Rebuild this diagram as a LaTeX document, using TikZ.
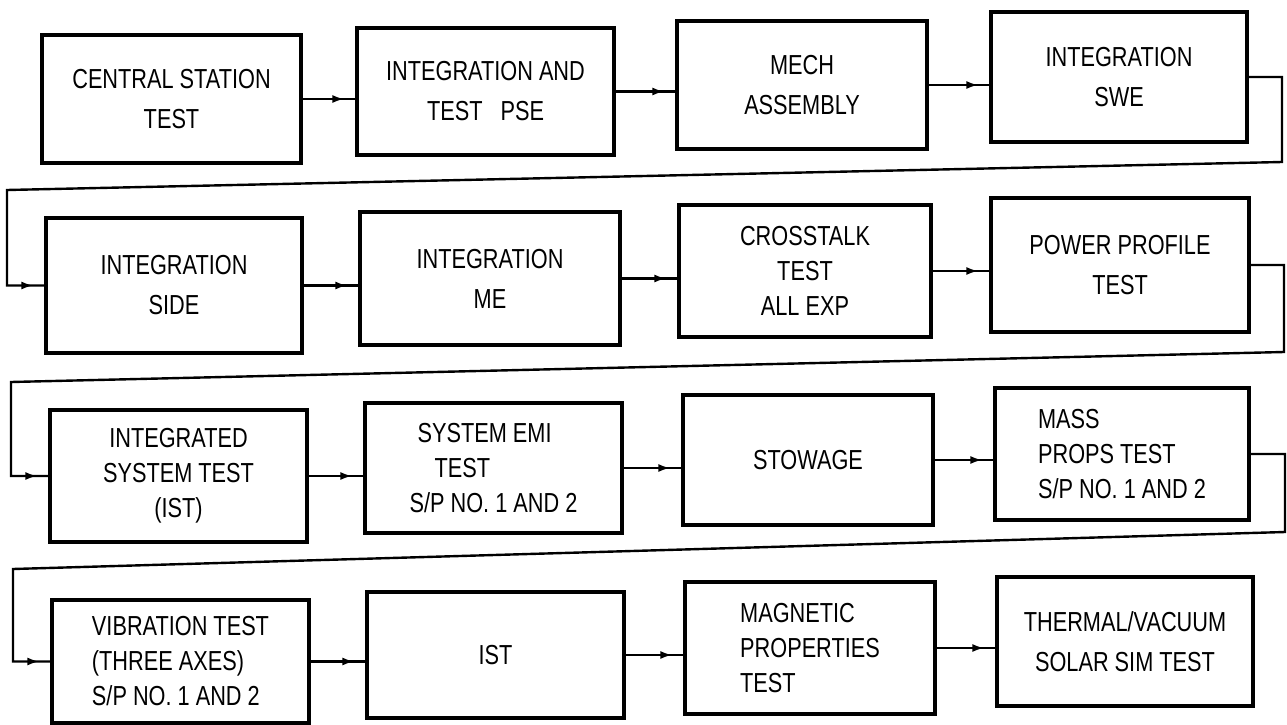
\documentclass[tikz,border=0pt]{standalone}
\usepackage{fontspec}
\setmainfont{Liberation Sans}[FakeStretch=0.79]
\usetikzlibrary{arrows.meta,decorations.markings,calc}
\newcommand\twofont{\fontsize{27.5pt}{40pt}\selectfont}
\newcommand\threefont{\fontsize{27.5pt}{35pt}\selectfont}
\begin{document}
\begin{tikzpicture}[x=1pt,y=-1pt,
  blk/.style={draw=black, line width=3.2pt, inner sep=0pt, align=center, font=\twofont},
  blk3/.style={blk, font=\threefont},
  lblk/.style={blk3, align=left},
  conn/.style={draw=black, line width=2.4pt, postaction={decorate},
    decoration={markings, mark=at position -11pt with {\arrow{Latex[length=12pt,width=8pt]}}}}
]
\useasboundingbox (0,0) rectangle (1287,725);
% row 1
\node[blk, minimum width=259pt, minimum height=128pt] (A) at (171.5,99) {CENTRAL STATION\\TEST};
\node[blk, minimum width=257pt, minimum height=127pt] (B) at (485.5,91.5) {INTEGRATION AND\\TEST\hspace{18pt}PSE};
\node[blk, minimum width=250pt, minimum height=128pt] (C) at (802,85) {MECH\\ASSEMBLY};
\node[blk, minimum width=256pt, minimum height=130pt] (D) at (1119,77) {INTEGRATION\\SWE};
% row 2
\node[blk, minimum width=256pt, minimum height=135pt] (E) at (174,285.5) {INTEGRATION\\SIDE};
\node[blk, minimum width=260pt, minimum height=133pt] (F) at (490,278.5) {INTEGRATION\\ME};
\node[blk3, minimum width=252pt, minimum height=132pt] (G) at (805,271) {CROSSTALK\\TEST\\ALL EXP};
\node[blk, minimum width=258pt, minimum height=134pt] (H) at (1120,265) {POWER PROFILE\\TEST};
% row 3
\node[blk3, minimum width=257pt, minimum height=132pt] (I) at (178.5,476) {INTEGRATED\\SYSTEM TEST\\(IST)};
\node[lblk, minimum width=257pt, minimum height=130pt] (J) at (493.5,468) {\hspace*{8pt}SYSTEM EMI\\\hspace*{25pt}TEST\\S/P NO. 1 AND 2};
\node[blk, minimum width=250pt, minimum height=130pt] (K) at (808,460) {STOWAGE};
\node[lblk, minimum width=254pt, minimum height=132pt] (L) at (1122,454) {MASS\\PROPS TEST\\S/P NO. 1 AND 2};
% row 4
\node[lblk, minimum width=257pt, minimum height=123pt] (M) at (180.5,661.5) {VIBRATION TEST\\(THREE AXES)\\S/P NO. 1 AND 2};
\node[blk, minimum width=257pt, minimum height=126pt] (N) at (495.5,655) {IST};
\node[lblk, minimum width=250pt, minimum height=132pt] (O) at (810,648) {MAGNETIC\\PROPERTIES\\TEST};
\node[blk, minimum width=256pt, minimum height=129pt] (P) at (1125,641.5) {THERMAL/VACUUM\\SOLAR SIM TEST};
% connectors within rows
\draw[conn] (A.east) -- (A.east -| B.west);
\draw[conn] (B.east) -- (B.east -| C.west);
\draw[conn] (C.east) -- (C.east -| D.west);
\draw[conn] (E.east) -- (E.east -| F.west);
\draw[conn] (F.east) -- (F.east -| G.west);
\draw[conn] (G.east) -- (G.east -| H.west);
\draw[conn] (I.east) -- (I.east -| J.west);
\draw[conn] (J.east) -- (J.east -| K.west);
\draw[conn] (K.east) -- (K.east -| L.west);
\draw[conn] (M.east) -- (M.east -| N.west);
\draw[conn] (N.east) -- (N.east -| O.west);
\draw[conn] (O.east) -- (O.east -| P.west);
% return connectors
\coordinate (r1a) at (1282,162); \coordinate (r1b) at (7,190);
\draw[conn] (D.east) -| (r1a) -- (r1b) |- (E.west);
\coordinate (r2a) at (1284,352); \coordinate (r2b) at (11,382);
\draw[conn] (H.east) -| (r2a) -- (r2b) |- (I.west);
\coordinate (r3a) at (1285,532); \coordinate (r3b) at (13,569);
\draw[conn] (L.east) -| (r3a) -- (r3b) |- (M.west);
\end{tikzpicture}
\end{document}
